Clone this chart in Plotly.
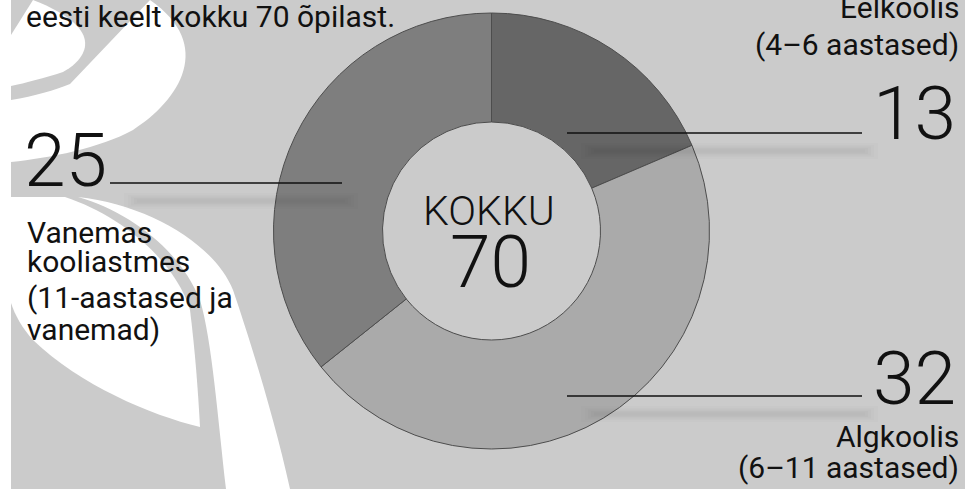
import plotly.graph_objects as go

# ---- data ----
categories = ["Eelkoolis", "Algkoolis", "Vanemas kooliastmes"]
age_groups = ["(4–6 aastased)", "(6–11 aastased)", "(11-aastased ja vanemad)"]
values = [13, 32, 25]
slice_colors = ["#666666", "#aaaaaa", "#7e7e7e"]
total_label = "KOKKU"
intro_text = "eesti keelt kokku 70 õpilast."

W, H = 967, 489
FONT = "Roboto"
INK = "#111111"


def px(x):
    return x / W


def py(y):
    return 1 - y / H


def path(cmds):
    """cmds: list of (letter, [x1,y1, x2,y2, ...]) in pixel coords -> paper path"""
    out = []
    for c, pts in cmds:
        if c == "Z":
            out.append("Z")
            continue
        coords = []
        for i in range(0, len(pts), 2):
            coords.append(f"{px(pts[i]):.5f},{py(pts[i+1]):.5f}")
        out.append(c + " " + " ".join(coords))
    return " ".join(out)


fig = go.Figure()

cx, cy, R = 491.5, 231, 218
fig.add_trace(go.Pie(
    labels=categories,
    values=values,
    hole=0.5,
    sort=False,
    direction="clockwise",
    rotation=0,
    textinfo="none",
    hoverinfo="label+value",
    marker=dict(colors=slice_colors, line=dict(color="#4d4d4d", width=1)),
    domain=dict(x=[px(cx - R), px(cx + R)], y=[py(cy + R), py(cy - R)]),
    showlegend=False,
))

shapes = []
# gray panel
shapes.append(dict(type="rect", xref="paper", yref="paper", x0=px(11), x1=px(965),
                   y0=0, y1=1, fillcolor="#cbcbcb", line=dict(width=0), layer="below"))
# white decorative swooshes
deco = [
    [("M", [11, 35]), ("L", [33, 0, 135, 0]), ("C", [110, 30, 85, 60, 63, 72]),
     ("C", [45, 78, 25, 83, 11, 86]), ("Z", [])],
    [("M", [11, 100]), ("C", [35, 96, 55, 90, 70, 84]), ("L", [150, 0, 230, 0]),
     ("C", [215, 45, 180, 100, 133, 130]), ("C", [100, 148, 50, 158, 11, 162]), ("Z", [])],
    [("M", [11, 197]), ("L", [65, 197]), ("C", [120, 215, 175, 260, 190, 310]),
     ("C", [195, 350, 198, 390, 200, 427]), ("C", [150, 415, 80, 385, 33, 340]),
     ("C", [22, 328, 15, 315, 11, 303]), ("Z", [])],
    [("M", [78, 197]), ("C", [150, 205, 215, 245, 233, 290]),
     ("C", [250, 340, 275, 420, 290, 489]), ("L", [226, 489]),
     ("C", [218, 420, 212, 340, 200, 300]), ("C", [180, 250, 130, 212, 78, 197]), ("Z", [])],
]
for d in deco:
    shapes.append(dict(type="path", xref="paper", yref="paper", path=path(d),
                       fillcolor="white", line=dict(width=0), layer="below"))

# leader lines with soft, blurred shadows
leaders = [(110, 342, 183), (567, 862, 133), (567, 862, 396)]
for x0, x1, y in leaders:
    for w, a in [(16, 0.012), (12, 0.012), (9, 0.014), (6, 0.014), (3, 0.014)]:
        shapes.append(dict(type="line", xref="paper", yref="paper",
                           x0=px(x0 + 30 - w), x1=px(x1 + w), y0=py(y + 18), y1=py(y + 18),
                           line=dict(color=f"rgba(0,0,0,{a})", width=w), layer="above"))
    shapes.append(dict(type="line", xref="paper", yref="paper",
                       x0=px(x0), x1=px(x1), y0=py(y), y1=py(y),
                       line=dict(color=INK, width=1.6), layer="above"))

annotations = []


def txt(text, x, baseline, size, anchor="left", weight=400):
    yc = baseline - 0.34 * size
    annotations.append(dict(text=text, x=px(x), y=py(yc), xref="paper", yref="paper",
                            xanchor=anchor, yanchor="middle", showarrow=False,
                            font=dict(family=FONT, size=size, color=INK, weight=weight)))


SMALL = 30
# intro text (partially cut at top)
txt(intro_text, 24, 27, SMALL)

# Vanemas (left)
txt(str(values[2]), 22, 185, 75, weight=300)
txt("Vanemas", 25, 243, SMALL)
txt("kooliastmes", 25, 272, SMALL)
txt("(11-aastased ja", 25, 308, SMALL)
txt("vanemad)", 25, 340, SMALL)

# Eelkoolis (top right)
txt(categories[0], 961, 18, SMALL, "right")
txt(age_groups[0], 961, 55, SMALL, "right")
txt(str(values[0]), 958, 138, 75, "right", 300)

# Algkoolis (bottom right)
txt(str(values[1]), 958, 403, 75, "right", 300)
txt(categories[1], 961, 447, SMALL, "right")
txt(age_groups[1], 961, 478, SMALL, "right")

# centre
txt(total_label, 489, 225, 41, "center", 300)
txt(str(sum(values)), 490, 287, 73, "center", 300)

fig.update_layout(
    width=W, height=H, autosize=False,
    margin=dict(l=0, r=0, t=0, b=0),
    paper_bgcolor="white", plot_bgcolor="white",
    shapes=shapes, annotations=annotations,
)

fig.write_html(
    "out.html",
    config={"displayModeBar": False},
    post_script="document.body.style.margin='0';document.body.style.overflow='hidden';",
)
